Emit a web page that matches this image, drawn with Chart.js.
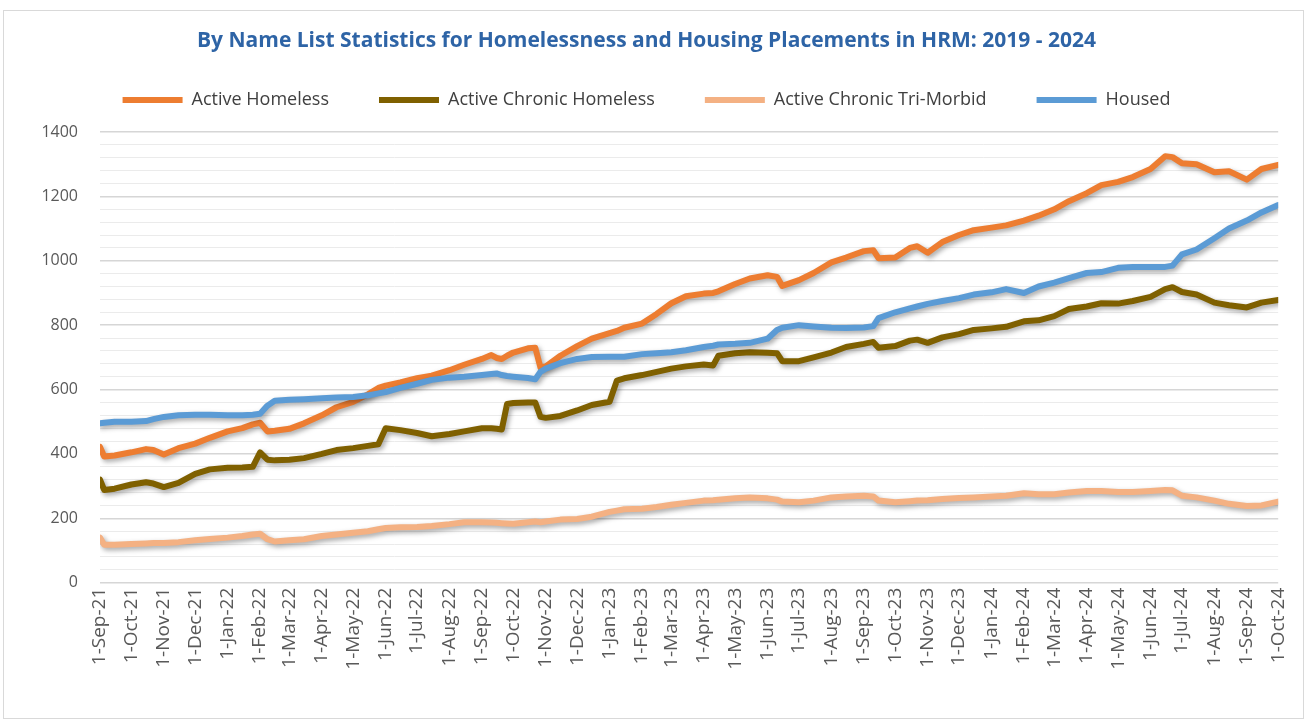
<!DOCTYPE html>
<html><head><meta charset="utf-8">
<script src="https://cdn.jsdelivr.net/npm/chart.js@4.4.1/dist/chart.umd.min.js"></script>
<style>
html,body{margin:0;padding:0;background:#fff;}
#wrap{position:relative;width:1306px;height:727px;}
</style></head><body>
<div id="wrap"><canvas id="c" width="1306" height="727"></canvas></div>
<script>
const dates = [
"2021-09-01","2021-09-05","2021-09-15","2021-10-01","2021-10-15","2021-10-22","2021-11-01","2021-11-15","2021-12-01","2021-12-15",
"2022-01-01","2022-01-15","2022-01-25","2022-02-01","2022-02-08","2022-02-15","2022-03-01","2022-03-15","2022-04-01","2022-04-15",
"2022-05-01","2022-05-15","2022-05-25","2022-06-01","2022-06-15","2022-07-01","2022-07-15","2022-08-01","2022-08-15","2022-09-01",
"2022-09-10","2022-09-15","2022-09-20","2022-09-25","2022-10-01","2022-10-15","2022-10-22","2022-10-27","2022-11-01","2022-11-15",
"2022-12-01","2022-12-15",
"2023-01-01","2023-01-08","2023-01-15","2023-02-01","2023-02-15","2023-03-01","2023-03-15","2023-04-01","2023-04-10","2023-04-15",
"2023-05-01","2023-05-15","2023-06-01","2023-06-10","2023-06-15","2023-07-01","2023-07-15","2023-08-01","2023-08-15","2023-09-01",
"2023-09-10","2023-09-15","2023-10-01","2023-10-15","2023-10-22","2023-11-01","2023-11-15","2023-12-01","2023-12-15",
"2024-01-01","2024-01-15","2024-02-01","2024-02-15","2024-03-01","2024-03-15","2024-04-01","2024-04-15","2024-05-01","2024-05-15",
"2024-06-01","2024-06-15","2024-06-22","2024-07-01","2024-07-15","2024-08-01","2024-08-15","2024-09-01","2024-09-15","2024-10-01"];

const activeHomeless = [
422,392,395,405,415,412,398,418,432,450,
470,480,492,497,470,472,478,495,520,545,
562,585,605,612,622,635,643,660,677,695,
707,698,695,705,715,728,730,668,672,705,
735,758,
775,782,792,805,835,868,890,898,900,905,
928,945,955,950,922,940,962,995,1010,1030,
1033,1008,1010,1040,1045,1025,1058,1080,1095,
1103,1110,1125,1140,1160,1185,1210,1235,1245,1260,
1285,1325,1322,1303,1300,1275,1278,1252,1285,1298];

const activeChronicHomeless = [
320,288,292,305,312,308,297,310,338,352,
357,358,360,405,382,380,382,387,400,412,
418,425,430,480,474,465,455,462,470,480,
480,478,476,555,558,560,560,515,512,518,
535,552,
562,628,635,645,655,665,672,678,675,705,
713,716,714,713,688,688,700,715,732,742,
748,730,735,752,755,745,762,772,785,
790,795,812,815,828,850,858,868,867,875,
888,912,918,903,895,870,862,855,870,878];

const activeChronicTriMorbid = [
140,118,118,120,122,123,123,126,132,136,
140,145,150,152,135,128,132,135,145,150,
155,160,166,170,172,173,176,182,188,188,
187,186,185,184,183,188,190,188,190,196,
198,205,
220,224,228,230,235,242,248,255,256,258,
262,265,262,258,252,250,255,265,268,270,
268,255,250,253,255,256,260,263,265,
268,270,278,275,275,280,285,285,282,282,
285,288,287,270,265,255,245,238,240,252];

const housed = [
495,497,500,500,502,508,515,520,522,522,
520,520,522,525,550,565,568,570,573,575,
577,582,588,592,605,618,630,637,640,645,
648,650,645,642,640,636,632,655,665,682,
695,701,
702,702,702,710,713,716,722,732,736,740,
742,745,758,785,792,800,796,792,791,793,
797,822,840,852,858,866,875,884,895,
902,912,900,920,932,946,962,965,978,981,
981,981,985,1020,1035,1070,1100,1125,1150,1173];

const tickDates = [
"2021-09-01","2021-10-01","2021-11-01","2021-12-01","2022-01-01","2022-02-01","2022-03-01","2022-04-01","2022-05-01","2022-06-01",
"2022-07-01","2022-08-01","2022-09-01","2022-10-01","2022-11-01","2022-12-01","2023-01-01","2023-02-01","2023-03-01","2023-04-01",
"2023-05-01","2023-06-01","2023-07-01","2023-08-01","2023-09-01","2023-10-01","2023-11-01","2023-12-01","2024-01-01","2024-02-01",
"2024-03-01","2024-04-01","2024-05-01","2024-06-01","2024-07-01","2024-08-01","2024-09-01","2024-10-01"];
const tickLabels = [
"1-Sep-21","1-Oct-21","1-Nov-21","1-Dec-21","1-Jan-22","1-Feb-22","1-Mar-22","1-Apr-22","1-May-22","1-Jun-22",
"1-Jul-22","1-Aug-22","1-Sep-22","1-Oct-22","1-Nov-22","1-Dec-22","1-Jan-23","1-Feb-23","1-Mar-23","1-Apr-23",
"1-May-23","1-Jun-23","1-Jul-23","1-Aug-23","1-Sep-23","1-Oct-23","1-Nov-23","1-Dec-23","1-Jan-24","1-Feb-24",
"1-Mar-24","1-Apr-24","1-May-24","1-Jun-24","1-Jul-24","1-Aug-24","1-Sep-24","1-Oct-24"];
const seriesLabels = ["Active Homeless","Active Chronic Homeless","Active Chronic Tri-Morbid","Housed"];
const seriesColors = ["#ED7D31","#7F6000","#F4B183","#5B9BD5"];
const titleText = "By Name List Statistics for Homelessness and Housing Placements in HRM: 2019 - 2024";

const DAY0 = Date.UTC(2021, 8, 1);
const toDay = s => (Date.parse(s + "T00:00:00Z") - DAY0) / 86400000;
const tickDays = tickDates.map(toDay);
const seriesValues = [activeHomeless, activeChronicHomeless, activeChronicTriMorbid, housed];
const FONT = "'Open Sans', 'Noto Sans', sans-serif";

const frame = {
  id: 'frame',
  beforeDraw(chart) {
    const c = chart.ctx;
    c.save();
    c.fillStyle = '#ffffff';
    c.fillRect(0, 0, chart.width, chart.height);
    c.strokeStyle = '#D9D9D9';
    c.lineWidth = 1;
    c.strokeRect(3.5, 10.5, 1300, 708);
    c.restore();
  }
};
const shadow = {
  id: 'shadow',
  beforeDatasetsDraw(chart) {
    const c = chart.ctx;
    c.save();
    c.shadowColor = 'rgba(0,0,0,0.35)';
    c.shadowBlur = 5;
    c.shadowOffsetX = 2;
    c.shadowOffsetY = 2.5;
  },
  afterDatasetsDraw(chart) { chart.ctx.restore(); }
};

new Chart(document.getElementById('c'), {
  type: 'line',
  data: {
    datasets: seriesLabels.map((name, k) => ({
      label: name,
      data: dates.map((d, i) => ({ x: toDay(d), y: seriesValues[k][i] })),
      borderColor: seriesColors[k],
      backgroundColor: seriesColors[k],
      borderWidth: 6,
      pointRadius: 0,
      tension: 0,
      borderJoinStyle: 'round',
      borderCapStyle: 'round',
      order: 3 - k
    }))
  },
  options: {
    responsive: false,
    animation: false,
    layout: { padding: { left: 0, right: 13, top: 0, bottom: 0 } },
    plugins: {
      title: {
        display: true, text: titleText, color: '#2E64A6',
        font: { family: FONT, size: 21, weight: 'bold' },
        padding: { top: 28, bottom: -12.2 }
      },
      legend: {
        display: true, position: 'top',
        labels: {
          boxWidth: 60, boxHeight: 6, padding: 50, color: '#404040',
          font: { family: FONT, size: 18 },
          sort: (a, b) => a.datasetIndex - b.datasetIndex,
          generateLabels: (chart) => chart.data.datasets.map((ds, i) => ({
            text: ds.label, fillStyle: ds.borderColor, strokeStyle: ds.borderColor,
            lineWidth: 0, hidden: false, datasetIndex: i, fontColor: '#404040'
          }))
        }
      },
      tooltip: { enabled: false }
    },
    scales: {
      x: {
        type: 'linear', min: 0, max: tickDays[tickDays.length - 1],
        afterBuildTicks: s => { s.ticks = tickDays.map(v => ({ value: v })); },
        ticks: {
          autoSkip: false, minRotation: 90, maxRotation: 90, padding: 5,
          color: '#595959', font: { family: FONT, size: 19 },
          callback: (v, i) => tickLabels[i]
        },
        grid: { display: false, drawTicks: false },
        border: { display: false },
        afterFit: s => { s.height = 144.3; }
      },
      y: {
        min: 0, max: 1400,
        afterBuildTicks: s => { const t = []; for (let v = 0; v <= 1400; v += 40) t.push({ value: v }); s.ticks = t; },
        ticks: {
          autoSkip: false, padding: 22, color: '#595959',
          font: { family: FONT, size: 16 },
          callback: v => (v % 200 === 0 ? String(v) : '')
        },
        grid: {
          drawTicks: false,
          color: ctx => (ctx.tick && ctx.tick.value % 200 === 0 ? '#D6D6D6' : '#EBEBEB'),
          lineWidth: ctx => (ctx.tick && ctx.tick.value % 200 === 0 ? 1.5 : 1)
        },
        border: { display: false },
        afterFit: s => { s.width = 100; }
      },
      spacer: {
        type: 'linear', position: 'top', display: true,
        ticks: { display: false }, grid: { display: false, drawTicks: false }, border: { display: false },
        afterFit: s => { s.height = 13; }
      }
    }
  },
  plugins: [frame, shadow]
});
</script>
</body></html>
